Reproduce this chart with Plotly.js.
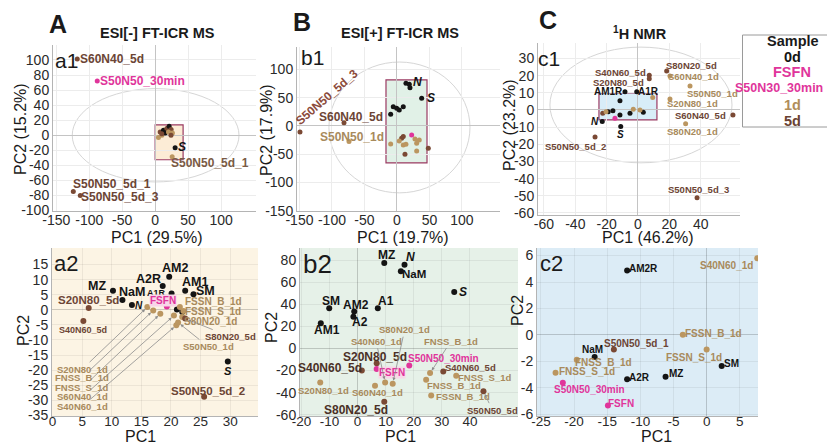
<!DOCTYPE html>
<html><head><meta charset="utf-8">
<script src="https://cdn.plot.ly/plotly-3.0.1.min.js"></script>
<style>html,body{margin:0;padding:0;background:#fff}#chart{width:827px;height:445px}</style>
</head><body><div id="chart"></div>
<script>
// ================= DATA =================
const legendTitle = 'Sample';
const legendItems = ['0d','FSFN','S50N30_30min','1d','5d'];

// a1: ESI[-] FT-ICR MS, PCA scores
const a1Name = ['S60N40_5d','S50N50_30min','S50N50_5d_1','S50N50_5d_3','S','S50N50_5d_1','','','','','','','','','','','',''];
const a1PC1 = [-118.2,-87.9,-124.2,-113.6,30.3,25.8,7.6,10.2,12.6,17.7,21.2,24.2,26.2,5,15.2,20.2,10,24];
const a1PC2 = [101.3,72.2,-74.8,-80.1,-16.6,-28.5,4.4,0,6.6,8.9,11.9,7.5,3,-3,3,4.4,2,0];
const a1Grp = ['5d','30min','5d','5d','0d','1d','5d','1d','0d','5d','0d','5d','1d','1d','0d','1d','5d','5d'];
const a1Ellipse = [0.7, 0, 126.5, 62];      // centre x, centre y, radius x, radius y
const a1Box = [0, 42.4, -32.5, 13.9];        // x0, x1, y0, y1

// b1: ESI[+] FT-ICR MS
const b1Name = ['S50N50_5d_3','S60N40_5d','S50N50_1d','N','S','','','','','','','','','','','','','','','','','','','',''];
const b1PC1 = [-149.2,-81.5,-73.8,13.8,38,18.9,20,-5.7,-0.5,3.5,9.7,-9.7,22.6,9.7,7.2,-9.7,9.7,13.8,27.7,34.3,30.3,3.5,12.3,30.3,48.2];
const b1PC2 = [-10.6,5.8,-27.7,75.4,48.9,73.7,67.7,34.1,31.3,28.3,34.1,20.7,-15.9,-18.9,-21.7,-31.8,-33.6,-32.3,-23,-24.7,-30.6,-26.5,-50,-44.2,-39.4];
const b1Grp = ['5d','5d','1d','0d','0d','0d','0d','0d','0d','0d','0d','0d','FSFN','5d','5d','1d','1d','1d','1d','1d','1d','1d','5d','1d','5d'];
const b1Ellipse = [3.8, -2.7, 108.5, 115.7];
const b1Box = [-16.9, 46.2, -65.4, 81.3];

// c1: 1H NMR
const c1Name = ['S40N60_5d','S20N80_5d','S80N20_5d','S60N40_1d','S50N50_1d','S20N80_1d','S60N40_5d','S80N20_1d','AM1R','A1R','N','S','S50N50_5d_2','S50N50_5d_3','','','','','','','','','','','',''];
const c1PC1 = [7.2,7.2,18.3,20.4,33.2,20.4,60.6,30.4,-8.3,-0.8,-22.8,-11,-27.4,37.7,-11.5,-11.5,-16,-19,-5.1,3.4,-3,1.3,9.4,-22.5,-20.4,-14.7];
const c1PC2 = [20.2,18.2,22.7,19.8,14,6.4,-2.9,-8.1,10.6,10.6,-6.8,-9.7,-15.7,-51.2,5.4,-2.9,-0.4,-1,-1.9,-1.3,0.4,0,7.2,-1.9,-1,-4.8];
const c1Grp = ['5d','5d','5d','1d','1d','1d','5d','1d','0d','0d','0d','0d','5d','5d','0d','0d','0d','0d','0d','0d','1d','1d','1d','5d','1d','FSFN'];
const c1Ellipse = [1.9, 2.9, 58.1, 33.7];
const c1Box = [-24.9, 12.1, -5.8, 9.9];

// a2
const a2Name = ['MZ','NaM','N','A2R','AM2','AM1','A1R','SM','S','FSFN','S20N80_5d','S40N60_5d','S50N50_5d_2','','','S20N80_1d','FNSS_B_1d','FNSS_S_1d','S60N40_1d','S40N60_1d','FSSN_B_1d','FSSN_S_1d','S80N20_1d','S80N20_5d','S50N50_1d'];
const a2PC1 = [10.2,11.8,13.4,18.6,19.7,22.4,20.1,23.8,29.6,19.3,6.1,5.2,25.6,21,21.9,16,17,18.2,20.5,20.9,21.5,22.1,21.9,22.4,21.2];
const a2PC2 = [6.3,3.3,1.6,7.9,11,6.3,5.4,5.2,-17.1,1.1,0.6,-3.7,-28.8,0.1,-0.7,0.9,-0.2,-1.3,-1.9,-5.1,0.9,-0.4,-2.4,-2.9,-4.2];
const a2Grp = ['0d','0d','0d','0d','0d','0d','0d','0d','0d','FSFN','5d','5d','5d','0d','0d','1d','1d','1d','1d','1d','1d','1d','1d','5d','1d'];

// b2
const b2Name = ['MZ','N','NaM','S','SM','AM2','A1','A2','AM1','S20N80_5d','FSFN','S50N50_30min','S40N60_5d','S40N60_5d','S20N80_1d','S60N40_1d','S40N60_1d','S80N20_1d','FNSS_B_1d','FNSS_B_1d','FNSS_S_1d','FSSN_B_1d','S50N50_5d','S80N20_5d'];
const b2PC1 = [9.5,16.7,15.4,34.4,-10.1,-1.2,7.2,-1.5,-13.1,6.8,6.8,18.4,1.5,30.5,-13.3,6.2,9.8,12.5,25.8,24.4,35.1,26.2,44.8,9.5];
const b2PC2 = [77.5,76,70,51.2,36.6,33.7,36.6,28.9,23,-13.4,-18.5,-15.5,-19.9,-20.8,-30.7,-33.7,-30.7,-31.9,-22.3,-28.3,-24.8,-42.6,-38.7,-48.3];
const b2Grp = ['0d','0d','0d','0d','0d','0d','0d','0d','0d','5d','FSFN','30min','5d','5d','1d','1d','1d','1d','1d','1d','1d','1d','5d','5d'];

// c2
const c2Name = ['AM2R','S40N60_1d','FSSN_B_1d','FSSN_S_1d','SM','MZ','A2R','NaM','S50N50_5d_1','FNSS_B_1d','FNSS_S_1d','S50N50_30min','FSFN'];
const c2PC1 = [-12,7.64,-3.6,0,2.27,-6.2,-12,-16.9,-14,-19.6,-22.8,-21.7,-14.9];
const c2PC2 = [4.87,5.8,0.02,-1.1,-2.34,-3.16,-3.34,-1.66,-1.1,-1.87,-2.86,-3.6,-5.32];
const c2Grp = ['0d','1d','1d','1d','0d','0d','0d','0d','5d','1d','1d','30min','FSFN'];

// tick values
const a1XT = [-150,-100,-50,0,50,100], a1YT = [-100,-80,-60,-40,-20,0,20,40,60,80,100];
const b1XT = [-150,-100,-50,0,50,100], b1YT = [-150,-100,-50,0,50,100];
const c1XT = [-60,-40,-20,0,20,40],    c1YT = [-60,-50,-40,-30,-20,-10,0,10,20,30];
const a2XT = [0,5,10,15,20,25,30],     a2YT = [-35,-30,-25,-20,-15,-10,-5,0,5,10,15];
const b2XT = [-20,-10,0,10,20,30,40],  b2YT = [-60,-40,-20,0,20,40,60,80];
const c2XT = [-25,-20,-15,-10,-5,0,5], c2YT = [-6,-4,-2,0,2,4,6];

// ================= STYLE =================
const FONT = '"Liberation Sans", Arial, Helvetica, sans-serif';
const W = 827, H = 445;
const COL = {'0d':'#141414','FSFN':'#e0359b','30min':'#e0359b','1d':'#bb9660','5d':'#7a4934'};
const TXT = {'0d':'#141414','FSFN':'#e0359b','30min':'#e0359b','1d':'#a88a5c','5d':'#6c4535'};
const BR = '#4a3026';

// label placement (pixel offsets), aligned with the name arrays
const a1Lab = [{dx:35,dy:0,s:12},{dx:45,dy:0,s:12},{dx:39,dy:8,s:12},{dx:40,dy:-1,s:12},{dx:7,dy:1,s:12,it:1},{dx:38,dy:-6,s:12,c:'#7a5a44'}];
const b1Lab = [{dx:27,dy:35,s:12,rot:-41,c:'#8b4a3a'},{dx:7,dy:6,s:12},{dx:3,dy:5,s:12},{dx:12,dy:1,s:12,it:1},{dx:9,dy:0,s:12,it:1}];
const c1Lab = [{dx:-29,dy:3,s:9.5},{dx:-31,dy:-4,s:9.5},{dx:25,dy:5,s:9.5},{dx:24,dy:-1,s:9.5},{dx:22,dy:-8,s:9.5},{dx:23,dy:-5,s:9.5},{dx:-32,dy:-1,s:9.5},{dx:7,dy:-8,s:9.5},{dx:-16,dy:0,s:10},{dx:12,dy:0,s:10},{dx:-7,dy:0,s:10,it:1},{dx:0,dy:-8,s:10,it:1},{dx:-20,dy:-10,s:9.5},{dx:1,dy:8,s:9.5}];
const a2Lab = [{dx:-16,dy:5,s:12.5},{dx:10,dy:8,s:12.5},{dx:7,dy:0,s:10,it:1},{dx:-14,dy:7,s:12.5},{dx:6,dy:9,s:12.5},{dx:10,dy:9,s:12.5},{dx:-15,dy:1,s:9},{dx:12,dy:3,s:12.5},{dx:0,dy:-10,s:11,it:1},{dx:-4,dy:6,s:10,bg:'#f8d6e8'},{dx:0,dy:8,s:11.5},{dx:0,dy:-9,s:9},{dx:4,dy:6,s:11.5},null,null,
  {ax:-65,ay:62,s:9.5},{ax:-71,ay:67,s:9.5},{ax:-78,ay:74,s:9.5},{ax:-91,ay:81,s:9.5},{ax:-94,ay:81,s:9.5},
  {dx:34,dy:6,s:10},{dx:30,dy:0,s:10},{dx:28,dy:-4,s:10},{ax:45,ay:18,s:9.5},{ax:30,ay:24,s:9.5}];
const b2Lab = [{dx:2,dy:8,s:12},{dx:6,dy:8,s:12,it:1},{dx:13,dy:-3,s:11.5},{dx:9,dy:0,s:12,it:1},{dx:2,dy:7,s:12},{dx:2,dy:6,s:12},{dx:8,dy:7,s:12},{dx:7,dy:-5,s:12},{dx:6,dy:-7,s:12},
  {dx:-2,dy:6,s:12,c:BR},{dx:15,dy:-4,s:10,bg:'#f8d6e8'},{dx:34,dy:7,s:10},{dx:-32,dy:2,s:12,c:BR},{dx:27,dy:4,s:9.5},{dx:3,dy:-8,s:9.5},{dx:2,dy:-7,s:9.5},
  {ax:-9,ay:-41,s:9.5},{ax:12,ay:-54,s:9.5},{ax:21,ay:-32,s:9.5},{dx:28,dy:-6,s:9.5},{dx:29,dy:-2,s:9.5},{dx:32,dy:-1,s:9.5},{ax:9,ay:19,s:9.5},{dx:-28,dy:-8,s:12,c:BR}];
const c2Lab = [{dx:16,dy:2,s:10},{dx:-31,dy:-7,s:10},{dx:31,dy:1,s:10},{dx:-13,dy:-8,s:10},{dx:10,dy:2,s:10},{dx:10,dy:3,s:10},{dx:12,dy:2,s:10},{dx:-2,dy:7,s:10},{dx:23,dy:6,s:10},{dx:27,dy:-3,s:10},{dx:31,dy:1,s:10},{dx:27,dy:-7,s:10},{dx:13,dy:2,s:10}];

// ================= BUILD =================
const PX = v => v / W, PY = v => 1 - v / H;
const traces = [], annotations = [], shapes = [];
const layout = {width:W, height:H, margin:{l:0,r:0,t:0,b:0}, paper_bgcolor:'#fff', plot_bgcolor:'rgba(0,0,0,0)', showlegend:false, font:{family:FONT}};

function axis(dom, range, tv, anchor, bottom, isX){
  const a = {domain:dom, range:range, tickvals:tv, ticktext:tv.map(String), anchor:anchor,
    showgrid:true, gridcolor: bottom ? 'rgba(0,0,0,0.06)' : '#ececec', gridwidth:1,
    zeroline:true, zerolinecolor: bottom ? 'rgba(0,0,0,0.18)' : '#c4c4c4', zerolinewidth:1,
    showline:true, linecolor:'#b4b4b4', linewidth:1, ticks:'', fixedrange:true,
    tickfont:{family:FONT, size: (bottom && isX) ? 13.5 : 14, color:'#2a2a2a'}};
  if (isX) a.ticklabelstandoff = bottom ? -7 : -4;
  return a;
}

function panel(k, box, xr, yr, xt, yt, names, xs, ys, grp, lab, bg, msize, ell, rect, rectFill){
  const xa = k === 1 ? 'x' : 'x' + k, ya = k === 1 ? 'y' : 'y' + k;
  layout['xaxis' + (k === 1 ? '' : k)] = axis([PX(box[0]), PX(box[1])], xr, xt, ya, !!bg, true);
  layout['yaxis' + (k === 1 ? '' : k)] = axis([PY(box[3]), PY(box[2])], yr, yt, xa, !!bg, false);
  if (bg) shapes.push({type:'rect', xref:xa + ' domain', yref:ya + ' domain', x0:0, x1:1, y0:0, y1:1, fillcolor:bg, line:{width:0}, layer:'below'});
  if (ell) shapes.push({type:'circle', xref:xa, yref:ya, x0:ell[0]-ell[2], x1:ell[0]+ell[2], y0:ell[1]-ell[3], y1:ell[1]+ell[3], line:{color:'#d6d6d6', width:1}, layer:'below'});
  if (rect) shapes.push({type:'rect', xref:xa, yref:ya, x0:rect[0], x1:rect[1], y0:rect[2], y1:rect[3], fillcolor:rectFill, line:{color:'#9a3a62', width:1.2}, layer:'below'});
  traces.push({type:'scatter', mode:'markers', x:xs, y:ys, xaxis:xa, yaxis:ya, hoverinfo:'skip',
    marker:{size:msize, color:grp.map(g => COL[g]), line:{width:0}}});
  names.forEach((n, i) => {
    const L = lab[i]; if (!L || !n) return;
    let t = L.it ? '<i>' + n + '</i>' : n;
    const a = {xref:xa, yref:ya, x:xs[i], y:ys[i], text:'<b>' + t + '</b>', showarrow:false,
      font:{family:FONT, size:L.s, color:L.c || TXT[grp[i]]}};
    if (L.ax !== undefined) {
      Object.assign(a, {showarrow:true, ax:L.ax, ay:L.ay, arrowhead:2, arrowsize:0.8, arrowwidth:0.8, arrowcolor:'#8c8c8c', standoff:3});
    } else { a.xshift = L.dx; a.yshift = L.dy; }
    if (L.rot) a.textangle = L.rot;
    if (L.bg) { a.bgcolor = L.bg; a.borderpad = 0; }
    annotations.push(a);
  });
}

panel(1, [53,256,45,211], [-155,153], [-100.6,119.9], a1XT, a1YT, a1Name, a1PC1, a1PC2, a1Grp, a1Lab, null, 5, a1Ellipse, a1Box, 'rgba(250,220,180,0.55)');
panel(2, [297,500,47,211], [-153.8,158.5], [-150.5,139.6], b1XT, b1YT, b1Name, b1PC1, b1PC2, b1Grp, b1Lab, null, 5, b1Ellipse, b1Box, 'rgba(205,232,215,0.6)');
panel(3, [538,740,43,215], [-63.8,65.1], [-61.2,39], c1XT, c1YT, c1Name, c1PC1, c1PC2, c1Grp, c1Lab, null, 5, c1Ellipse, c1Box, 'rgba(200,230,245,0.7)');
panel(4, [52,258,248,416], [-0.1,34.7], [-35.2,20.5], a2XT, a2YT, a2Name, a2PC1, a2PC2, a2Grp, a2Lab, '#fcf4e4', 6, null, null, null);
panel(5, [300,518,248,416], [-20.5,57.1], [-61.2,91.2], b2XT, b2YT, b2Name, b2PC1, b2PC2, b2Grp, b2Lab, '#e6f1e8', 6, null, null, null);
panel(6, [537,758,248,416], [-25.6,7.75], [-6.12,6.57], c2XT, c2YT, c2Name, c2PC1, c2PC2, c2Grp, c2Lab, '#dcecf6', 6, null, null, null);

// static texts
function txt(x, y, text, size, color, opts){
  annotations.push(Object.assign({xref:'paper', yref:'paper', x:PX(x), y:PY(y), text:text, showarrow:false,
    xanchor:'center', yanchor:'middle', font:{family:FONT, size:size, color:color || '#1a1a1a'}}, opts || {}));
}
txt(58, 24, '<b>A</b>', 25); txt(302, 22, '<b>B</b>', 25); txt(548, 20, '<b>C</b>', 25);
txt(157, 33, '<b>ESI[-] FT-ICR MS</b>', 14.5); txt(400, 33, '<b>ESI[+] FT-ICR MS</b>', 14.5); txt(640, 33, '<b><sup>1</sup>H NMR</b>', 14.5);
txt(66, 60, 'a1', 21); txt(312, 57, 'b1', 21); txt(549, 58, 'c1', 21);
txt(66, 263, 'a2', 22); txt(317, 264, 'b2', 26); txt(551, 263, 'c2', 22);
txt(157, 237, 'PC1 (29.5%)', 16); txt(403, 237, 'PC1 (19.7%)', 16); txt(648, 237, 'PC1 (46.2%)', 16);
txt(21, 129, 'PC2 (15.2%)', 16, null, {textangle:-90}); txt(266, 130, 'PC2 (17.9%)', 16, null, {textangle:-90}); txt(509, 125, 'PC2 (23.2%)', 16, null, {textangle:-90});
txt(140, 436.5, 'PC1', 16); txt(400, 436.5, 'PC1', 16); txt(656, 436.5, 'PC1', 16);
txt(23, 331, 'PC2', 16, null, {textangle:-90}); txt(271, 328, 'PC2', 16, null, {textangle:-90}); txt(517, 311, 'PC2', 16, null, {textangle:-90});

// legend box
shapes.push({type:'rect', xref:'paper', yref:'paper', x0:PX(742.5), x1:PX(835), y0:PY(127), y1:PY(35), fillcolor:'#fff', line:{color:'#9a9a9a', width:1}, layer:'above'});
const legCol = ['#141414', COL.FSFN, COL['30min'], '#b08d5a', '#6a4232'];
txt(793, 41, '<b>' + legendTitle + '</b>', 14.5, '#1a1a1a');
legendItems.forEach((s, i) => {
  const y = [57, 72, 88, 105, 121][i];
  if (i === 2) txt(733, y, '<b>' + s + '</b>', 12.5, legCol[i], {xanchor:'left'});
  else txt(792, y, '<b>' + s + '</b>', 14.5, legCol[i]);
});

layout.annotations = annotations;
layout.shapes = shapes;
Plotly.newPlot('chart', traces, layout, {staticPlot:true, displayModeBar:false});
</script></body></html>
